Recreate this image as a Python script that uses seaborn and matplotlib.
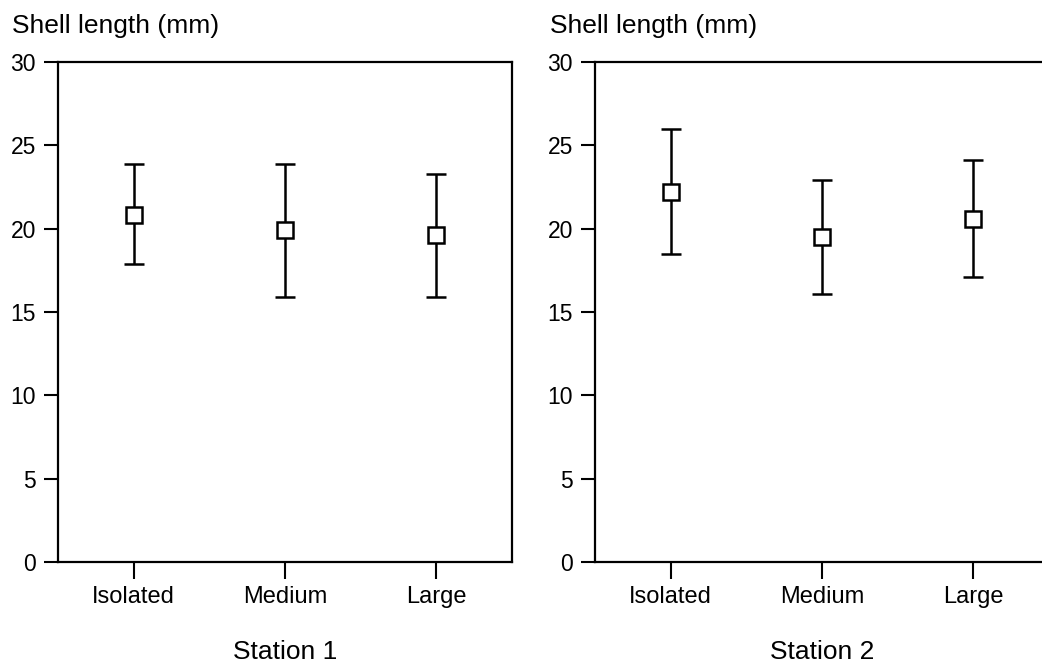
import matplotlib
matplotlib.use("Agg")
import matplotlib.pyplot as plt
import seaborn as sns

categories = ["Isolated", "Medium", "Large"]
station1_mean = [20.8, 19.9, 19.6]
station1_low = [17.9, 15.9, 15.9]
station1_high = [23.9, 23.9, 23.3]
station2_mean = [22.2, 19.5, 20.6]
station2_low = [18.5, 16.1, 17.1]
station2_high = [26.0, 22.9, 24.1]

sns.set_style("white")
plt.rcParams["font.family"] = ["Liberation Sans", "DejaVu Sans"]
plt.rcParams["text.color"] = "black"

fig = plt.figure(figsize=(10.42, 6.67), dpi=100)
ax1 = fig.add_axes([0.0557, 0.1574, 0.4357, 0.7496])
ax2 = fig.add_axes([0.571, 0.1574, 0.4357, 0.7496])

panels = [
    (ax1, station1_mean, station1_low, station1_high, "Station 1", 0.0115),
    (ax2, station2_mean, station2_low, station2_high, "Station 2", 0.528),
]

for ax, means, lows, highs, station, label_x in panels:
    pos = list(range(len(categories)))
    err = [[m - lo for m, lo in zip(means, lows)], [hi - m for m, hi in zip(means, highs)]]
    ax.errorbar(pos, means, yerr=err, fmt="none", ecolor="black",
                elinewidth=1.8, capsize=7, capthick=1.8, zorder=2)
    sns.pointplot(x=categories, y=means, ax=ax, errorbar=None, linestyle="none",
                  marker="s", color="black", markersize=12,
                  markerfacecolor="white", markeredgecolor="black",
                  markeredgewidth=1.8, zorder=3)
    ax.set_xlim(-0.5, 2.5)
    ax.set_ylim(0, 30)
    ax.set_yticks([0, 5, 10, 15, 20, 25, 30])
    for s in ax.spines.values():
        s.set_visible(True)
        s.set_linewidth(1.6)
        s.set_color("black")
    ax.tick_params(axis="y", direction="out", length=10, width=1.5, pad=6,
                   labelsize=16.5, left=True, colors="black")
    ax.tick_params(axis="x", direction="out", length=12, width=1.5, pad=5,
                   labelsize=17, bottom=True, colors="black")
    ax.set_xlabel("")
    ax.set_ylabel("")
    ax.text(0.5, -0.194, station, transform=ax.transAxes, ha="center",
            va="baseline", fontsize=19, color="black")
    fig.text(label_x, 0.9505, "Shell length (mm)", ha="left", va="baseline",
             fontsize=19, color="black")

fig.savefig("out.png", dpi=100)
